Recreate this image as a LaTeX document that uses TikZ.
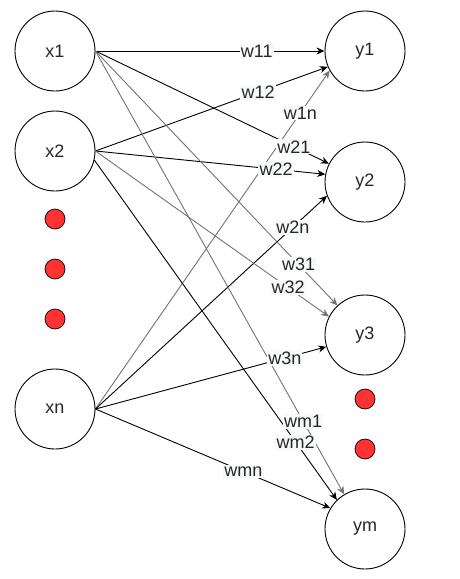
\documentclass[tikz,border=0pt]{standalone}
\usepackage{fontspec}
\setmainfont{Liberation Sans}
\usetikzlibrary{arrows.meta}
\definecolor{lblbg}{HTML}{F8F9FA}
\definecolor{dotred}{HTML}{FF3333}
\begin{document}
\begin{tikzpicture}[x=1pt,y=-1pt,
  neuron/.style={circle,draw,line width=0.9pt,minimum size=80pt,inner sep=0pt,font=\fontsize{18}{21}\selectfont,text=black!85},
  dotnode/.style={circle,draw,line width=0.7pt,fill=dotred,minimum size=20pt,inner sep=0pt},
  conn/.style={line width=0.9pt,-{Stealth[length=8pt,width=7pt,inset=2.5pt]}},
  faint/.style={conn,draw=black!55},
  wlbl/.style={fill=lblbg,inner sep=1.2pt,font=\fontsize{18}{21}\selectfont,text=black!85}]
\useasboundingbox (0,0) rectangle (460,579);

\node[neuron] (x1) at (55,51) {x1};
\node[neuron] (x2) at (55,151) {x2};
\node[neuron] (xn) at (55,409) {xn};
\node[neuron] (y1) at (365,51) {y1};
\node[neuron] (y2) at (365,182) {y2};
\node[neuron] (y3) at (365,335) {y3};
\node[neuron] (ym) at (365,529) {ym};

\node[dotnode] (d1) at (55,219) {};
\node[dotnode] (d2) at (55,269) {};
\node[dotnode] (d3) at (55,319) {};
\node[dotnode] (d4) at (365,399) {};
\node[dotnode] (d5) at (365,449) {};

\draw[conn] (x1.east) -- coordinate[pos=0.704] (l11) (y1.180);
\draw[conn] (x2.east) -- coordinate[pos=0.70] (l12) (y1.203);
\draw[faint] (xn.east) -- coordinate[pos=0.875] (l1n) (y1.209);
\draw[conn] (x1.east) -- coordinate[pos=0.85] (l21) (y2.153);
\draw[conn] (x2.east) -- coordinate[pos=0.786] (l22) (y2.169);
\draw[conn] (xn.east) -- coordinate[pos=0.853] (l2n) (y2.200);
\draw[faint] (x1.east) -- coordinate[pos=0.84] (l31) (y3.133);
\draw[faint] (x2.east) -- coordinate[pos=0.825] (l32) (y3.153);
\draw[conn] (xn.east) -- coordinate[pos=0.82] (l3n) (y3.197);
\draw[faint] (x1.east) -- coordinate[pos=0.835] (lm1) (ym.121);
\draw[conn] (x2.-13) -- coordinate[pos=0.83] (lm2) (ym.134);
\draw[conn] (xn.east) -- coordinate[pos=0.63] (lmn) (ym.149);

\node[wlbl] (t11) at (l11) {w11};
\node[wlbl] (t12) at (l12) {w12};
\node[wlbl] (t1n) at (l1n) {w1n};
\node[wlbl] (t21) at (l21) {w21};
\node[wlbl] (t22) at (l22) {w22};
\node[wlbl] (t2n) at (l2n) {w2n};
\node[wlbl] (t31) at (l31) {w31};
\node[wlbl] (t32) at (l32) {w32};
\node[wlbl] (t3n) at (l3n) {w3n};
\node[wlbl] (tm1) at (lm1) {wm1};
\node[wlbl] (tm2) at (lm2) {wm2};
\node[wlbl] (tmn) at (lmn) {wmn};
\end{tikzpicture}
\end{document}
